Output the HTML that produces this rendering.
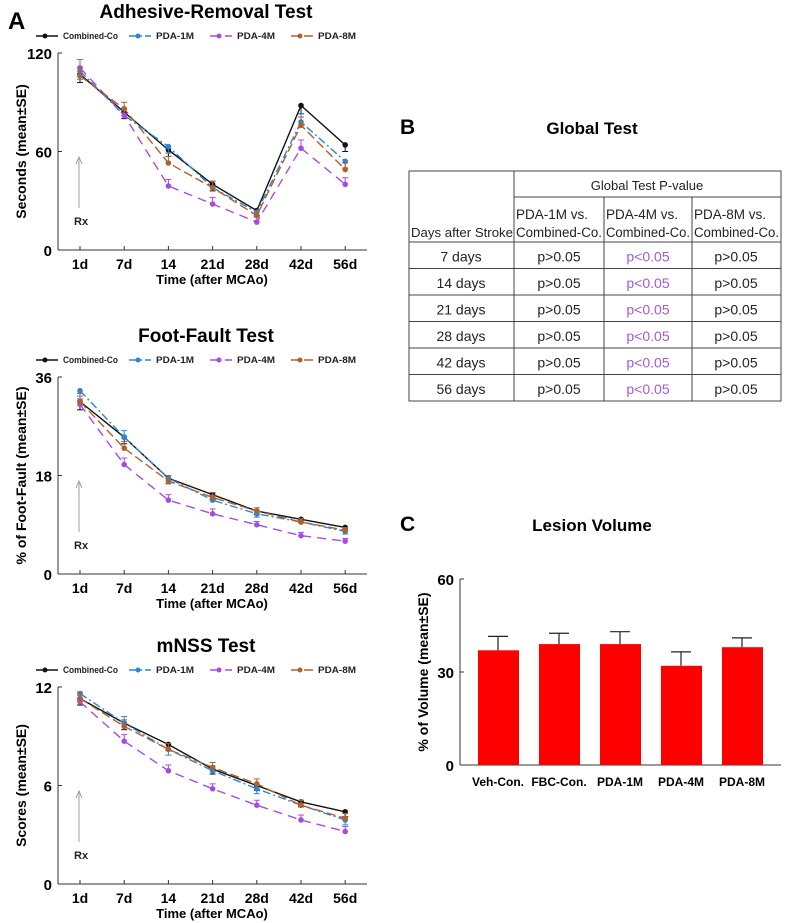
<!DOCTYPE html>
<html><head><meta charset="utf-8"><style>
body{margin:0;background:#fff;width:787px;height:923px;overflow:hidden;font-family:"Liberation Sans",Arial,sans-serif}
svg{position:absolute;left:0;top:0}
</style></head><body>
<svg id="s" width="787" height="923" viewBox="0 0 787 923" font-family="Liberation Sans, Arial, sans-serif"></svg>
<script>
const days=["1d","7d","14","21d","28d","42d","56d"];
const seriesNames=["Combined-Co","PDA-1M","PDA-4M","PDA-8M"];
const adhCombined=[107,84,61,40,24,88,64];
const adhP1=[109,82,63,38,23,78,54];
const adhP4=[111,82,39,28,17,62,40];
const adhP8=[106,86,53,38,21,76,49];
const adhErr=[5,4,4,4,3,5,4];
const ffCombined=[31.5,25,17.5,14.5,11.5,10,8.5];
const ffP1=[33.5,25,17.5,13.5,11,9.5,7.8];
const ffP4=[31,20,13.5,11,9,7,6];
const ffP8=[31.5,23,17,14,11.5,9.5,8];
const ffErr=[1.5,1.2,1,0.9,0.6,0.6,0.5];
const mCombined=[11.3,9.8,8.5,7.0,6.0,5.0,4.4];
const mP1=[11.6,9.8,8.2,6.9,5.8,4.8,3.9];
const mP4=[11.1,8.7,6.9,5.8,4.8,3.9,3.2];
const mP8=[11.3,9.6,8.2,7.1,6.1,4.8,4.0];
const mErr=[0.4,0.4,0.35,0.3,0.3,0.3,0.3];
const lesionCats=["Veh-Con.","FBC-Con.","PDA-1M","PDA-4M","PDA-8M"];
const lesionVals=[37,39,39,32,38];
const lesionErr=[4.5,3.5,4,4.5,3];
const tableRows=["7 days","14 days","21 days","28 days","42 days","56 days"];

const NS="http://www.w3.org/2000/svg";
const svg=document.getElementById('s');
function mk(tag,attrs,parent,text){const e=document.createElementNS(NS,tag);for(const k in attrs)e.setAttribute(k,attrs[k]);if(text!==undefined)e.textContent=text;(parent||svg).appendChild(e);return e;}
const colors=["#111","#2a86d6","#a64de0","#b0602a"];
const dashes=["","8,3,2,3","9,6","9,4"];
const legendW=[55,38,38,38];

function lineChart(key,top,title,ylabel,ymax,sets,err){
  const g=mk('g',{});
  
  
  const y0=top+197,y1=top, xa=58;
  const X=i=>80+i*44.2, Y=v=>y0-(v/ymax)*(y0-y1);
  const t=mk('text',{x:206,y:top-35,'text-anchor':'middle','font-size':19,'font-weight':'bold'},g,title);
  
  const lx=[36,129,210,291];
  seriesNames.forEach((n,k)=>{
    const lg=mk('g',{},g);
    
    mk('line',{x1:lx[k],x2:lx[k]+22,y1:top-17,y2:top-17,stroke:colors[k],'stroke-width':1.5,'stroke-dasharray':dashes[k]},lg);
    mk('circle',{cx:lx[k]+9,cy:top-17,r:2.5,fill:colors[k]},lg);
    mk('text',{x:lx[k]+27,y:top-14,'font-size':9,'font-weight':'bold',fill:'#222','textLength':legendW[k],'lengthAdjust':'spacingAndGlyphs'},lg,n);
  });
  const ax=mk('g',{},g);
  mk('line',{x1:xa,x2:xa,y1:y1,y2:y0,stroke:'#333','stroke-width':1},ax);
  mk('line',{x1:xa,x2:367,y1:y0,y2:y0,stroke:'#333','stroke-width':1},ax);
  [0,ymax/2,ymax].forEach(v=>{
    mk('line',{x1:xa,x2:xa+4,y1:Y(v),y2:Y(v),stroke:'#333'},ax);
    mk('text',{x:xa-6,y:Y(v)+6,'text-anchor':'end','font-size':15,'font-weight':'bold'},ax,String(v));
  });
  days.forEach((d,i)=>{
    mk('line',{x1:X(i),x2:X(i),y1:y0,y2:y0-4,stroke:'#333'},ax);
    mk('text',{x:X(i),y:y0+19,'text-anchor':'middle','font-size':14,'font-weight':'bold'},ax,d);
  });
  mk('text',{x:212,y:y0+34,'text-anchor':'middle','font-size':13,'font-weight':'bold'},ax,'Time (after MCAo)');
  const yl=mk('text',{x:0,y:0,transform:`translate(26,${(y0+y1)/2}) rotate(-90)`,'text-anchor':'middle','font-size':14,'font-weight':'bold'},g,ylabel);
  
  mk('line',{x1:X(0)-1,x2:X(0)-1,y1:top+106,y2:top+155,stroke:'#888','stroke-width':0.8},g);
  mk('path',{d:`M${X(0)-4},${top+111} L${X(0)-1},${top+104} L${X(0)+2},${top+111}`,fill:'none',stroke:'#888','stroke-width':0.8},g);
  mk('text',{x:X(0)-6,y:top+172,'font-size':11,'font-weight':'bold',fill:'#222'},g,'Rx');
  sets.forEach((vals,k)=>{
    const sg=mk('g',{},g);
    
    
    mk('polyline',{points:vals.map((v,i)=>X(i)+','+Y(v)).join(' '),fill:'none',stroke:colors[k],'stroke-width':1.4,'stroke-dasharray':dashes[k]},sg);
    vals.forEach((v,i)=>{
      const dir=(k===0||k===1)&&i%2===0?-1:(k===0?-1:1);
      const ye=Y(v+dir*err[i]);
      mk('line',{x1:X(i),x2:X(i),y1:Y(v),y2:ye,stroke:colors[k],'stroke-width':1},sg);
      mk('line',{x1:X(i)-3,x2:X(i)+3,y1:ye,y2:ye,stroke:colors[k],'stroke-width':1},sg);
      const c=mk('circle',{cx:X(i),cy:Y(v),r:2.8,fill:colors[k]},sg);
      
    });
  });
}
const A=mk('text',{x:8,y:29,'font-size':24,'font-weight':'bold'},svg,'A');

lineChart('adhesive',53,'Adhesive-Removal Test','Seconds (mean±SE)',120,[adhCombined,adhP1,adhP4,adhP8],adhErr);
lineChart('foot-fault',377,'Foot-Fault Test','% of Foot-Fault (mean±SE)',36,[ffCombined,ffP1,ffP4,ffP8],ffErr);
lineChart('mnss',687,'mNSS Test','Scores (mean±SE)',12,[mCombined,mP1,mP4,mP8],mErr);

const B=mk('text',{x:400,y:134,'font-size':21,'font-weight':'bold'},svg,'B');

const bt=mk('text',{x:592,y:134,'text-anchor':'middle','font-size':17,'font-weight':'bold'},svg,'Global Test');

const tg=mk('g',{});
const L=409,R=781,T=171,cols=[409,514,604,692,781];
const rowY=[171,197,242];tableRows.forEach((r,i)=>rowY.push(242+(i+1)*26.5));
mk('rect',{x:L,y:T,width:R-L,height:rowY[rowY.length-1]-T,fill:'none',stroke:'#444','stroke-width':1},tg);
rowY.slice(1,-1).forEach((y,i)=>mk('line',{x1:i===0?514:L,x2:R,y1:y,y2:y,stroke:'#444'},tg));
cols.slice(1,-1).forEach((x,i)=>mk('line',{x1:x,x2:x,y1:i===0?T:197,y2:rowY[rowY.length-1],stroke:'#444'},tg));
mk('text',{x:647,y:190,'text-anchor':'middle','font-size':13,fill:'#222'},tg,'Global Test P-value');
mk('text',{x:411,y:237,'font-size':13.3,fill:'#222','textLength':102,'lengthAdjust':'spacingAndGlyphs'},tg,'Days after Stroke');
["PDA-1M vs.","PDA-4M vs.","PDA-8M vs."].forEach((h,i)=>{
  mk('text',{x:cols[i+1]+2,y:219,'font-size':13.5,fill:'#222'},tg,h);
  mk('text',{x:cols[i+1]+2,y:237,'font-size':13.5,fill:'#222','textLength':cols[i+2]-cols[i+1]-4,'lengthAdjust':'spacingAndGlyphs'},tg,'Combined-Co.');
});
tableRows.forEach((r,i)=>{
  const y=rowY[i+3]-7;
  mk('text',{x:461,y:y,'text-anchor':'middle','font-size':14,fill:'#222'},tg,r);
  mk('text',{x:559,y:y,'text-anchor':'middle','font-size':14,fill:'#222'},tg,'p>0.05');
  mk('text',{x:648,y:y,'text-anchor':'middle','font-size':14,fill:'#a45ad8'},tg,'p<0.05');
  mk('text',{x:736,y:y,'text-anchor':'middle','font-size':14,fill:'#222'},tg,'p>0.05');
});

const C=mk('text',{x:400,y:531,'font-size':21,'font-weight':'bold'},svg,'C');

const ct=mk('text',{x:592,y:531,'text-anchor':'middle','font-size':17,'font-weight':'bold'},svg,'Lesion Volume');

const cg=mk('g',{});
const cy0=765,cy1=579,cxa=460;
const CY=v=>cy0-v/60*(cy0-cy1), CX=i=>498+i*61;
mk('line',{x1:cxa,x2:cxa,y1:cy1,y2:cy0,stroke:'#333'},cg);
mk('line',{x1:cxa,x2:781,y1:cy0,y2:cy0,stroke:'#333'},cg);
[0,30,60].forEach(v=>{mk('line',{x1:cxa,x2:cxa+4,y1:CY(v),y2:CY(v),stroke:'#333'},cg);
  mk('text',{x:cxa-6,y:CY(v)+6,'text-anchor':'end','font-size':15,'font-weight':'bold'},cg,String(v));});
mk('text',{x:0,y:0,transform:`translate(428,${(cy0+cy1)/2}) rotate(-90)`,'text-anchor':'middle','font-size':14,'font-weight':'bold'},cg,'% of Volume (mean±SE)');
lesionVals.forEach((v,i)=>{
  mk('line',{x1:CX(i),x2:CX(i),y1:CY(v),y2:CY(v+lesionErr[i]),stroke:'#222','stroke-width':1.2},cg);
  mk('line',{x1:CX(i)-10,x2:CX(i)+10,y1:CY(v+lesionErr[i]),y2:CY(v+lesionErr[i]),stroke:'#222','stroke-width':1.2},cg);
  const b=mk('rect',{x:CX(i)-20,y:CY(v),width:41,height:cy0-CY(v),fill:'#fe0000'},cg);
  
  
  mk('text',{x:CX(i),y:cy0+21,'text-anchor':'middle','font-size':12,'font-weight':'bold'},cg,lesionCats[i]);
});
</script>
</body></html>
